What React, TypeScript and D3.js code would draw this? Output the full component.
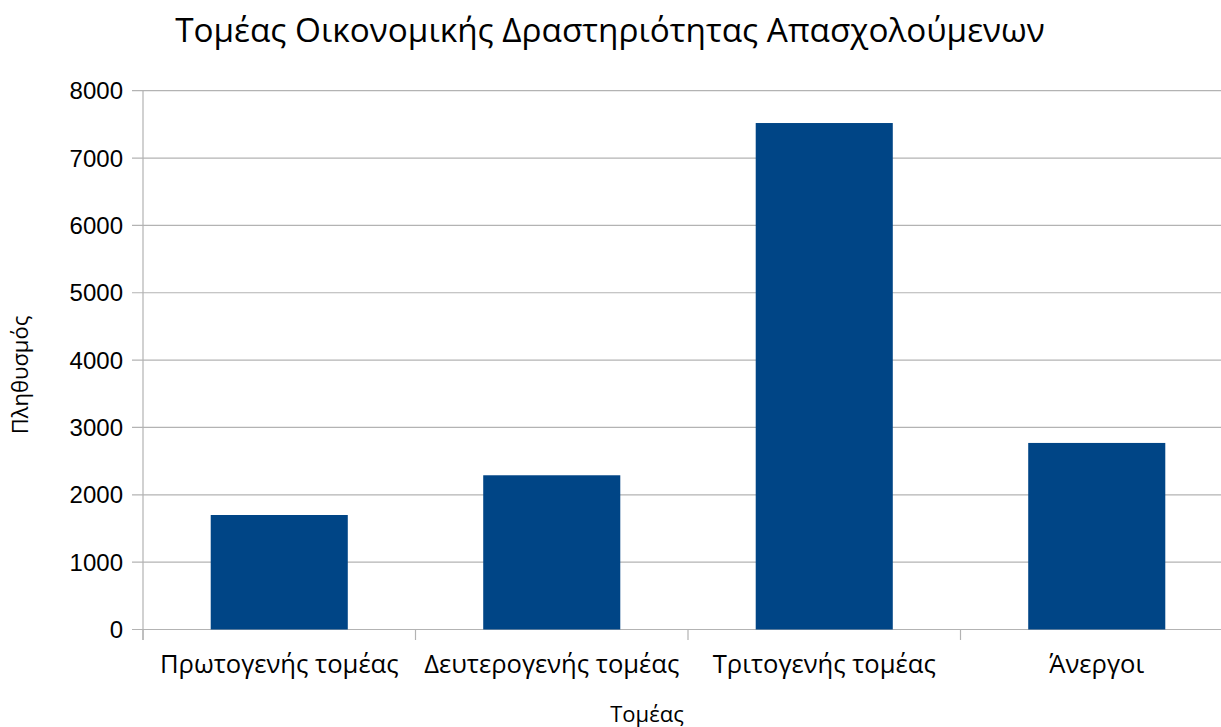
import React from "react";
import * as d3 from "d3";

const categories = ["Πρωτογενής τομέας", "Δευτερογενής τομέας", "Τριτογενής τομέας", "Άνεργοι"];
const values = [1700, 2290, 7520, 2770];
const yTicks = [0, 1000, 2000, 3000, 4000, 5000, 6000, 7000, 8000];
const title = "Τομέας Οικονομικής Δραστηριότητας Απασχολούμενων";
const xTitle = "Τομέας";
const yTitle = "Πληθυσμός";

const W = 1221, H = 727;
const left = 143, right = 1233, top = 90.7, bottom = 629.5;
const numFont = "'Liberation Sans', Arial, sans-serif";
const textFont = "'Open Sans', 'Noto Sans', sans-serif";

export default function App() {
  const x = d3.scaleBand<string>().domain(categories).range([left, right]).paddingInner(0).paddingOuter(0);
  const y = d3.scaleLinear().domain([0, 8000]).range([bottom, top]);
  const bw = x.bandwidth() * 0.503;
  const grid = "#b3b3b3";
  return (
    <svg width={W} height={H} style={{ position: "absolute", left: 0, top: 0, background: "#fff" }}>
      <rect x={0} y={0} width={W} height={H} fill="#fff" />
      <text x={610} y={42} fontSize={33.3} fontFamily={textFont} textAnchor="middle" fill="#000">{title}</text>
      {yTicks.map((t) => (
        <g key={t}>
          <line x1={132} x2={right} y1={y(t)} y2={y(t)} stroke={grid} strokeWidth={1.2} />
          <text x={123} y={y(t) + 8.5} fontSize={24} fontFamily={numFont} textAnchor="end" fill="#000">{t}</text>
        </g>
      ))}
      <line x1={left} x2={left} y1={top} y2={640} stroke={grid} strokeWidth={1.2} />
      {categories.map((c, i) => (
        <line key={"t" + i} x1={x(c)!} x2={x(c)!} y1={bottom} y2={640} stroke={grid} strokeWidth={1.2} />
      ))}
      {categories.map((c, i) => (
        <rect key={c} x={x(c)! + (x.bandwidth() - bw) / 2} y={y(values[i])} width={bw} height={y(0) - y(values[i])} fill="#004586" />
      ))}
      {categories.map((c) => (
        <text key={"l" + c} x={x(c)! + x.bandwidth() / 2} y={673} fontSize={25.6} fontFamily={textFont} textAnchor="middle" fill="#000">{c}</text>
      ))}
      <text x={647} y={722} fontSize={22} fontFamily={textFont} textAnchor="middle" fill="#000">{xTitle}</text>
      <text transform={`translate(28,375) rotate(-90)`} fontSize={22} fontFamily={textFont} textAnchor="middle" fill="#000">{yTitle}</text>
    </svg>
  );
}
